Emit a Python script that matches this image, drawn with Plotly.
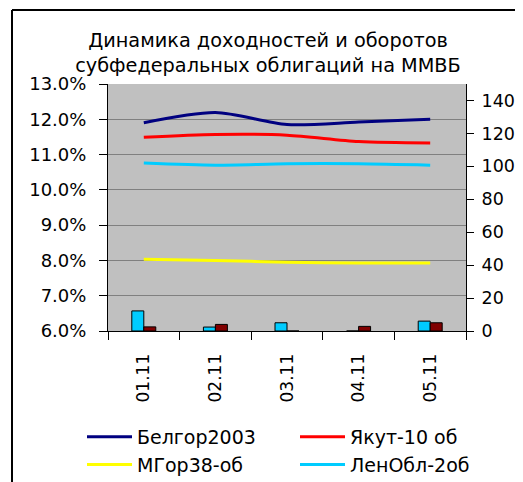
import plotly.graph_objects as go

dates = ["01.11", "02.11", "03.11", "04.11", "05.11"]

belgor = [11.90, 12.19, 11.85, 11.92, 12.00]
yakut = [11.49, 11.57, 11.55, 11.37, 11.33]
mgor = [8.03, 8.00, 7.95, 7.93, 7.93]
lenobl = [10.76, 10.70, 10.74, 10.74, 10.70]

vol_cyan = [12.2, 2.4, 5.0, 0.0, 6.0]
vol_red = [2.5, 4.0, 0.0, 2.8, 5.0]

yield_ticks = [6, 7, 8, 9, 10, 11, 12, 13]
vol_ticks = [0, 20, 40, 60, 80, 100, 120, 140]

# page is drawn with an 8px body margin, so figure coordinates are page - 8
W, H = 515, 474
L, R, T, B = 100, 458, 76, 323

FONT = "DejaVu Sans"

fig = go.Figure()

fig.add_trace(go.Bar(x=dates, y=vol_cyan, yaxis="y2",
                     marker=dict(color="#00CCFF", line=dict(color="black", width=1)),
                     showlegend=False))
fig.add_trace(go.Bar(x=dates, y=vol_red, yaxis="y2",
                     marker=dict(color="#800000", line=dict(color="black", width=1)),
                     showlegend=False))

series = [("Белгор2003", belgor, "#000080"), ("Якут-10 об", yakut, "#FF0000"),
          ("МГор38-об", mgor, "#FFFF00"), ("ЛенОбл-2об", lenobl, "#00CCFF")]
for name, vals, col in series:
    fig.add_trace(go.Scatter(x=dates, y=vals, name=name, mode="lines",
                             line=dict(color=col, width=3, shape="spline", smoothing=0.8)))


def px_x(p):
    return (p - L) / (R - L)


def px_y(p):
    return (B - p) / (B - T)


fig.update_layout(
    width=W, height=H,
    margin=dict(l=L, r=W - R, t=T, b=H - B, pad=0, autoexpand=False),
    paper_bgcolor="white",
    plot_bgcolor="#C0C0C0",
    font=dict(family=FONT, size=17, color="black"),
    barmode="group",
    bargap=0.665,
    bargroupgap=0,
    title=dict(text="Динамика доходностей и оборотов<br>субфедеральных облигаций на ММВБ",
               x=260 / W, xanchor="center", xref="container",
               y=1 - 39 / H, yanchor="top", yref="container", font=dict(size=19.3, family=FONT)),
    xaxis=dict(type="category", tickangle=-90, showgrid=False, showline=True, linecolor="black",
               linewidth=1, ticks="outside", ticklen=8, tickcolor="black", tickson="boundaries",
               zeroline=False, tickfont=dict(size=17), automargin=False, ticklabelstandoff=15),
    yaxis=dict(range=[6, 13], tickvals=yield_ticks,
               ticktext=[f"{v:.1f}%" for v in yield_ticks],
               showgrid=True, gridcolor="#808080", gridwidth=1, showline=True, linecolor="black",
               linewidth=1, ticks="outside", ticklen=8, tickcolor="black", zeroline=False,
               tickfont=dict(size=18), automargin=False, ticklabelstandoff=9),
    yaxis2=dict(range=[0, 150], tickvals=vol_ticks, overlaying="y", side="right",
                showgrid=False, showline=True, linecolor="black", linewidth=1, ticks="outside",
                ticklen=7, tickcolor="black", zeroline=False, tickfont=dict(size=17.5),
                automargin=False, ticklabelstandoff=4),
    legend=dict(orientation="h", x=px_x(74), y=px_y(410), xanchor="left", yanchor="top",
                entrywidth=153, entrywidthmode="pixels", font=dict(size=19),
                bgcolor="rgba(0,0,0,0)", traceorder="normal", itemwidth=45,
                tracegroupgap=0),
    shapes=[
        dict(type="line", xref="paper", yref="paper", x0=px_x(4), x1=px_x(W + 5),
             y0=px_y(2), y1=px_y(2), line=dict(color="black", width=2)),
        dict(type="line", xref="paper", yref="paper", x0=px_x(4), x1=px_x(4),
             y0=px_y(2), y1=px_y(H + 5), line=dict(color="black", width=2)),
    ],
)

fig.write_html("out.html")
